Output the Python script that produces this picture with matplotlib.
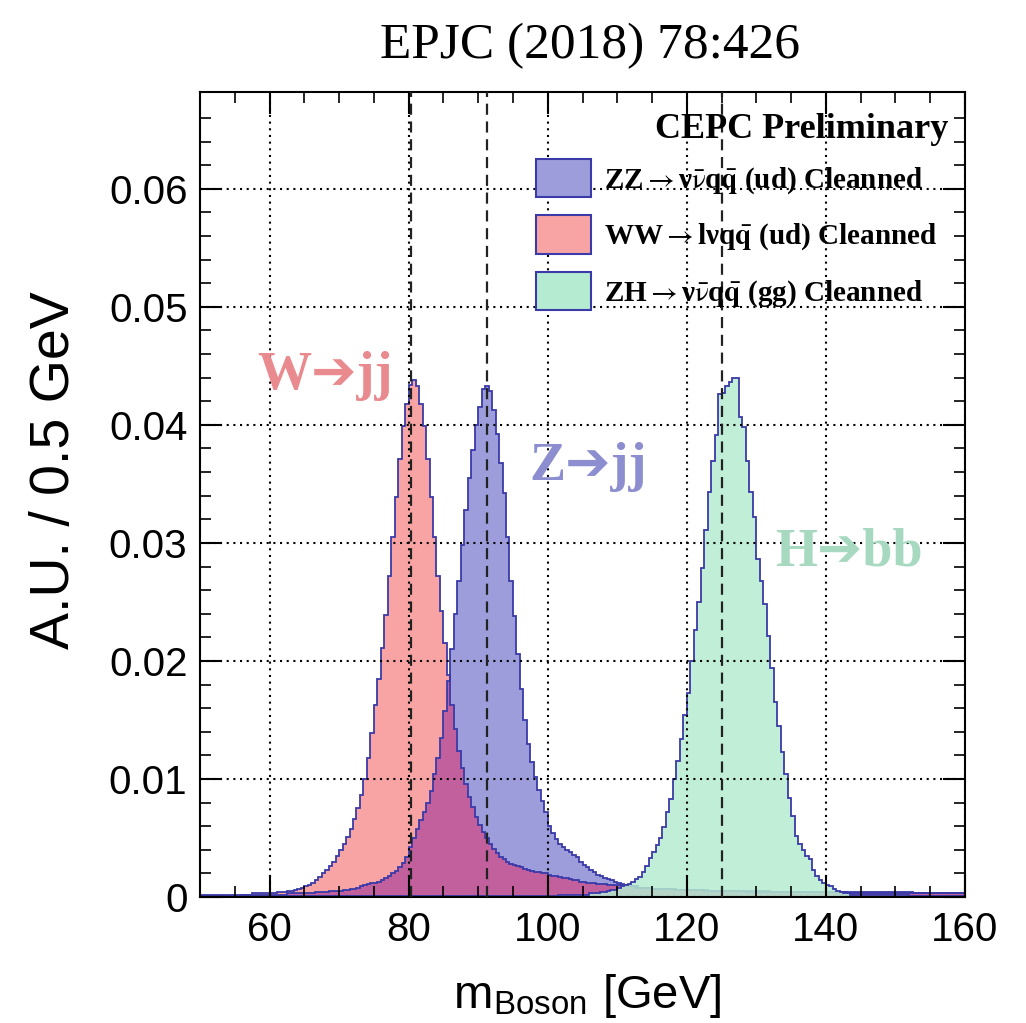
import numpy as np
import matplotlib.pyplot as plt
from matplotlib.patches import Patch

plt.rcParams['font.family'] = ['Liberation Sans', 'DejaVu Sans']
plt.rcParams['mathtext.fontset'] = 'stix'

# 0.5 GeV bins from 50 to 160 GeV, bin heights in units of 1e-4 (A.U.)
bin_lo, bin_hi, bin_w = 50.0, 160.0, 0.5
unit = 1e-4

ww_ud = [
    2, 2, 2, 2, 2, 2, 2, 2, 2, 2,
    2, 2, 2, 2, 2, 3, 3, 3, 3, 3,
    3, 3, 4, 4, 4, 5, 5, 6, 7, 8,
    9, 10, 12, 14, 17, 20, 23, 26, 30, 35,
    40, 45, 51, 58, 66, 75, 86, 100, 118, 139,
    163, 185, 211, 239, 272, 305, 339, 371, 399, 418,
    434, 438, 433, 418, 399, 371, 339, 305, 272, 242,
    215, 188, 163, 142, 124, 109, 96, 85, 76, 68,
    61, 55, 50, 45, 41, 37, 34, 32, 30, 28,
    27, 26, 25, 24, 23, 22, 21, 21, 20, 20,
    19, 18, 18, 17, 16, 16, 15, 14, 14, 13,
    13, 12, 12, 12, 11, 11, 11, 10, 10, 10,
    10, 9, 9, 9, 9, 8, 8, 8, 8, 8,
    7, 7, 7, 7, 7, 7, 6, 6, 6, 6,
    6, 6, 6, 6, 6, 5, 5, 5, 5, 5,
    5, 5, 5, 5, 5, 5, 5, 4, 4, 4,
    4, 4, 4, 4, 4, 4, 4, 4, 4, 4,
    4, 4, 4, 4, 4, 4, 4, 4, 4, 4,
    4, 4, 4, 4, 4, 4, 3, 3, 3, 3,
    3, 3, 3, 3, 3, 3, 3, 3, 3, 3,
    3, 3, 3, 3, 3, 3, 3, 3, 3, 3,
    3, 3, 3, 3, 3, 3, 3, 3, 3, 3,
]

zz_ud = [
    1, 1, 1, 1, 1, 1, 1, 1, 1, 1,
    1, 1, 2, 2, 2, 2, 2, 2, 2, 2,
    2, 2, 2, 2, 2, 3, 3, 3, 3, 3,
    3, 3, 3, 4, 4, 4, 4, 5, 5, 5,
    5, 6, 6, 7, 7, 8, 9, 10, 11, 12,
    12, 13, 14, 16, 18, 20, 22, 25, 29, 34,
    42, 50, 58, 65, 72, 80, 90, 104, 118, 135,
    158, 183, 210, 240, 268, 298, 328, 355, 379, 400,
    415, 430, 433, 429, 413, 392, 368, 342, 305, 268,
    238, 206, 176, 150, 130, 114, 102, 91, 81, 72,
    60, 54, 49, 45, 42, 40, 38, 36, 34, 30,
    27, 25, 23, 21, 19, 18, 16, 15, 14, 13,
    12, 11, 10, 10, 9, 9, 8, 8, 8, 8,
    7, 7, 7, 7, 7, 7, 7, 6, 6, 6,
    6, 6, 6, 6, 6, 6, 5, 5, 5, 5,
    5, 5, 5, 5, 5, 5, 5, 5, 5, 5,
    5, 5, 5, 5, 4, 4, 4, 4, 4, 4,
    4, 4, 4, 4, 4, 4, 4, 4, 4, 4,
    4, 4, 4, 4, 4, 4, 4, 4, 4, 4,
    4, 4, 4, 4, 4, 4, 4, 4, 4, 4,
    4, 4, 4, 4, 4, 3, 3, 3, 3, 3,
    3, 3, 3, 3, 3, 3, 3, 3, 3, 3,
]

zh_gg = [
    1, 1, 1, 1, 1, 1, 1, 1, 1, 1,
    1, 1, 1, 1, 1, 1, 1, 1, 1, 1,
    1, 1, 1, 1, 1, 1, 1, 1, 1, 1,
    1, 1, 1, 1, 1, 1, 1, 1, 1, 1,
    1, 1, 1, 1, 1, 1, 1, 1, 1, 1,
    1, 1, 1, 1, 1, 1, 1, 1, 1, 1,
    1, 1, 1, 1, 1, 1, 1, 1, 1, 1,
    1, 1, 1, 1, 1, 1, 1, 1, 1, 1,
    1, 1, 1, 1, 1, 1, 1, 1, 1, 1,
    1, 1, 1, 1, 1, 1, 1, 1, 1, 1,
    1, 1, 1, 2, 2, 2, 2, 2, 2, 2,
    2, 2, 3, 3, 3, 4, 4, 5, 6, 6,
    8, 9, 10, 11, 13, 15, 17, 21, 26, 33,
    38, 44, 50, 59, 72, 83, 100, 115, 134, 154,
    173, 200, 226, 250, 279, 311, 343, 369, 391, 426,
    427, 433, 436, 440, 440, 407, 398, 369, 343, 322,
    286, 268, 248, 221, 194, 165, 145, 123, 104, 84,
    69, 52, 45, 40, 35, 32, 23, 18, 14, 12,
    10, 9, 7, 5, 4, 3, 3, 2, 2, 2,
    2, 2, 2, 2, 2, 2, 2, 2, 2, 2,
    2, 2, 2, 2, 1, 1, 1, 1, 1, 1,
    1, 1, 1, 1, 1, 1, 1, 1, 1, 1,
]

mass_lines = [80.4, 91.2, 125.0]

x_ticks = [60, 80, 100, 120, 140, 160]
y_ticks = [0, 0.01, 0.02, 0.03, 0.04, 0.05, 0.06]
y_ticklabels = ['0', '0.01', '0.02', '0.03', '0.04', '0.05', '0.06']

legend_labels = [
    r'ZZ$\rightarrow$ν$\bar{\mathrm{\nu}}$q$\bar{\mathbf{q}}$ (ud) Cleanned',
    r'WW$\rightarrow$lνq$\bar{\mathbf{q}}$ (ud) Cleanned',
    r'ZH$\rightarrow$ν$\bar{\mathrm{\nu}}$q$\bar{\mathbf{q}}$ (gg) Cleanned',
]

# colours
c_w = '#f9a4a4'
c_z = '#9c9dda'
c_wz = '#c2609e'
c_h = '#b5ebd0'
c_line = '#3a3aa8'

edges = np.arange(bin_lo, bin_hi + bin_w / 2, bin_w)
w = np.array(ww_ud) * unit
z = np.array(zz_ud) * unit
h = np.array(zh_gg) * unit

fig = plt.figure(figsize=(10.26, 10.23), dpi=100)
ax = fig.add_axes([200 / 1026, 126 / 1023, 765 / 1026, 805 / 1023])

ax.stairs(w, edges, fill=True, color=c_w, lw=0)
ax.stairs(z, edges, fill=True, color=c_z, lw=0)
ax.stairs(np.minimum(w, z), edges, fill=True, color=c_wz, lw=0)
ax.stairs(w, edges, color=c_line, lw=1.3)
ax.stairs(z, edges, color=c_line, lw=1.3)
ax.stairs(h, edges, fill=True, color=c_h, alpha=0.85, lw=0)
ax.stairs(h, edges, color=c_line, lw=1.3)

for m in mass_lines:
    ax.axvline(m, color='#222222', lw=1.6, ls=(0, (5, 3)), zorder=3)

ax.set_xlim(bin_lo, bin_hi)
ax.set_ylim(0, 0.0682)
ax.set_xticks(x_ticks)
ax.set_xticks(np.arange(55, 160, 5), minor=True)
ax.set_yticks(y_ticks, y_ticklabels)
ax.set_yticks(np.arange(0, 0.068, 0.002), minor=True)
ax.set_axisbelow(False)
ax.grid(True, which='major', color='black', lw=1.5, ls=(0, (1, 2.2)))

ax.tick_params(which='both', direction='in', top=True, right=True)
ax.tick_params(which='major', length=16, width=1.5, labelsize=29)
ax.tick_params(axis='x', which='major', pad=10)
ax.tick_params(axis='y', which='major', pad=9)
ax.tick_params(which='minor', length=8, width=1.2)
for s in ax.spines.values():
    s.set_linewidth(1.5)

serif = ['Liberation Serif', 'DejaVu Serif', 'DejaVu Sans']
ax.text(58.3, 0.0430, 'W➔jj', color='#e98a8e', fontsize=39, fontweight='bold',
        family=serif, ha='left', va='baseline')
ax.text(97.4, 0.0353, 'Z➔jj', color='#8c8ecf', fontsize=39, fontweight='bold',
        family=serif, ha='left', va='baseline')
ax.text(132.7, 0.0281, 'H➔bb', color='#a6d9c0', fontsize=39, fontweight='bold',
        family=serif, ha='left', va='baseline')

ax.text(0.978, 0.943, 'CEPC Preliminary', transform=ax.transAxes, ha='right',
        va='baseline', fontsize=26, fontweight='bold', family='Liberation Serif')

handles = [
    Patch(facecolor=c_z, edgecolor=c_line, lw=1.5, label=legend_labels[0]),
    Patch(facecolor=c_w, edgecolor=c_line, lw=1.5, label=legend_labels[1]),
    Patch(facecolor=c_h, edgecolor=c_line, lw=1.5, label=legend_labels[2]),
]
ax.legend(handles=handles, loc='upper left', bbox_to_anchor=(0.439, 0.917),
          frameon=False, prop={'family': 'Liberation Serif', 'weight': 'bold', 'size': 21},
          handlelength=1.9, handleheight=1.65, labelspacing=0.62, handletextpad=0.42,
          borderpad=0, borderaxespad=0)

fig.text(0.575, 1 - 58 / 1023, 'EPJC (2018) 78:426', ha='center', va='baseline',
         fontsize=37, family='Liberation Serif')
fig.text(587 / 1026, 1 - 1008 / 1023, r'm$_{\mathregular{Boson}}$ [GeV]', ha='center',
         va='baseline', fontsize=34)
fig.text(55 / 1026, 1 - 470 / 1023, 'A.U. / 0.5 GeV', rotation=90, ha='center',
         va='center', fontsize=40)

fig.savefig('out.png', dpi=100)
